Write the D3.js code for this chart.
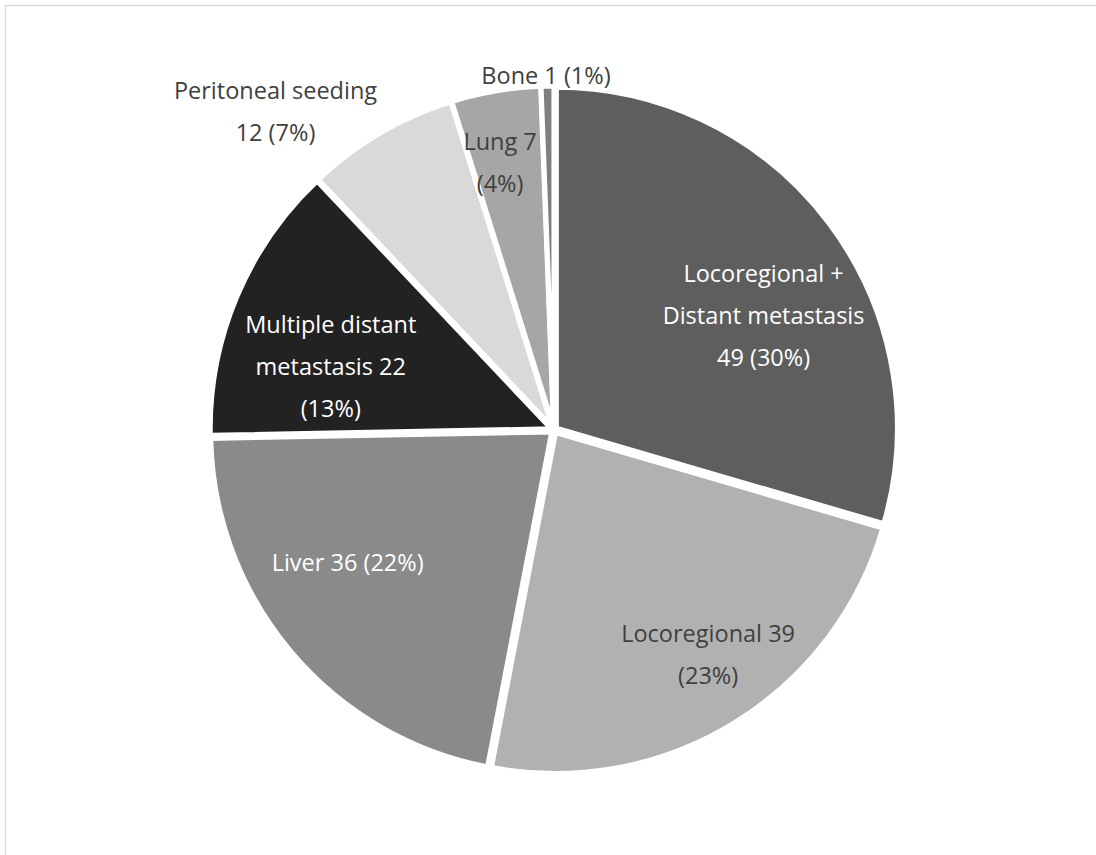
<!DOCTYPE html>
<html>
<head>
<meta charset="utf-8">
<script src="https://cdn.jsdelivr.net/npm/d3@7"></script>
<style>
  html, body { margin: 0; padding: 0; background: #fff; }
  svg { display: block; }
</style>
</head>
<body>
<svg id="chart" width="1096" height="855"></svg>
<script>
// Recurrence pattern counts
const categories = [
  "Locoregional + Distant metastasis",
  "Locoregional",
  "Liver",
  "Multiple distant metastasis",
  "Peritoneal seeding",
  "Lung",
  "Bone"
];
const counts = [49, 39, 36, 22, 12, 7, 1];
const percents = [30, 23, 22, 13, 7, 4, 1];

// Label text, one entry per line
const labelLines = [
  ["Locoregional +", "Distant metastasis", "49 (30%)"],
  ["Locoregional 39", "(23%)"],
  ["Liver 36 (22%)"],
  ["Multiple distant", "metastasis 22", "(13%)"],
  ["Peritoneal seeding", "12 (7%)"],
  ["Lung 7", "(4%)"],
  ["Bone 1 (1%)"]
];

// Presentation
const sliceColors = ["#5e5e5e", "#b1b1b1", "#8a8a8a", "#222222", "#d9d9d9", "#a6a6a6", "#7f7f7f"];
const labelColors = ["#ffffff", "#404040", "#ffffff", "#ffffff", "#404040", "#404040", "#404040"];
// label anchor: angle (deg, clockwise from 12 o'clock) and distance as a fraction of the radius
const labelAngle = [61.4, 145.6, 237.2, 285.7, 318.8, 348.6, 358.7];
const labelDist  = [0.70, 0.80, 0.72, 0.68, 1.24, 0.80, 1.04];

const W = 1096, H = 855;
const cx = 554, cy = 430, R = 341;
const explode = 3;
const lineH = 42;

const svg = d3.select("#chart");

// outer frame
svg.append("rect")
  .attr("x", 5.5).attr("y", 5.5)
  .attr("width", W + 10).attr("height", H + 10)
  .attr("fill", "none")
  .attr("stroke", "#d9d9d9")
  .attr("stroke-width", 1.5);

const data = categories.map((c, i) => ({ name: c, value: counts[i], i }));

const pie = d3.pie().value(d => d.value).sort(null);
const arcs = pie(data);
const arc = d3.arc().innerRadius(0).outerRadius(R);

const g = svg.append("g").attr("transform", `translate(${cx},${cy})`);

g.selectAll("path.slice")
  .data(arcs)
  .join("path")
  .attr("class", "slice")
  .attr("d", arc)
  .attr("fill", d => sliceColors[d.data.i])
  .attr("stroke", "#ffffff")
  .attr("stroke-width", 5)
  .attr("stroke-linejoin", "miter")
  .attr("transform", d => {
    const a = (d.startAngle + d.endAngle) / 2;
    return `translate(${explode * Math.sin(a)},${-explode * Math.cos(a)})`;
  });

g.selectAll("text.lbl")
  .data(arcs)
  .join("text")
  .attr("class", "lbl")
  .attr("text-anchor", "middle")
  .attr("font-family", "'Open Sans', 'Noto Sans', sans-serif")
  .attr("font-size", 23.5)
  .attr("fill", d => labelColors[d.data.i])
  .each(function(d) {
    const i = d.data.i;
    const a = labelAngle[i] * Math.PI / 180;
    const r = labelDist[i] * R;
    const x = r * Math.sin(a), y = -r * Math.cos(a);
    const lines = labelLines[i];
    const y0 = y - (lines.length - 1) * lineH / 2;
    d3.select(this).selectAll("tspan")
      .data(lines)
      .join("tspan")
      .attr("x", x)
      .attr("y", (t, k) => y0 + k * lineH)
      .attr("dy", "0.35em")
      .text(t => t);
  });
</script>
</body>
</html>
